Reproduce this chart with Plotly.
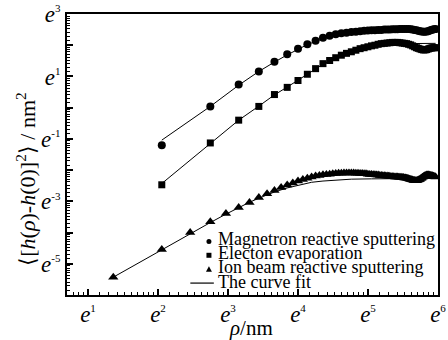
import numpy as np
import plotly.graph_objects as go

# ---------------- data ----------------
# lag rho in nm
rho_mag = [7.8, 15.6, 23.4, 31.2, 39.0, 46.8, 54.6, 62.4, 70.2, 78.0,
           85.8, 93.6, 101.4, 109.2, 117.0, 124.8, 132.6, 140.4, 148.2, 156.0,
           163.8, 171.6, 179.4, 187.2, 195.0, 202.8, 210.6, 218.4, 226.2, 234.0,
           241.8, 249.6, 257.4, 265.2, 273.0, 280.8, 288.6, 296.4, 304.2, 312.0,
           319.8, 327.6, 335.4, 343.2, 351.0, 358.8, 366.6, 374.4, 382.2, 390.0]
rho_ele = rho_mag
rho_ion = [3.9, 7.8, 11.7, 15.6, 19.5, 23.4, 27.3, 31.2, 35.1, 39.0,
           42.9, 46.8, 50.7, 54.6, 58.5, 62.4, 66.3, 70.2, 74.1, 78.0,
           81.9, 85.8, 89.7, 93.6, 97.5, 101.4, 105.3, 109.2, 113.1, 117.0,
           120.9, 124.8, 128.7, 132.6, 136.5, 140.4, 144.3, 148.2, 152.1, 156.0,
           159.9, 163.8, 167.7, 171.6, 175.5, 179.4, 183.3, 187.2, 191.1, 195.0,
           198.9, 202.8, 206.7, 210.6, 214.5, 218.4, 222.3, 226.2, 230.1, 234.0,
           237.9, 241.8, 245.7, 249.6, 253.5, 257.4, 261.3, 265.2, 269.1, 273.0,
           276.9, 280.8, 284.7, 288.6, 292.5, 296.4, 300.3, 304.2, 308.1, 312.0,
           315.9, 319.8, 323.7, 327.6, 331.5, 335.4, 339.3, 343.2, 347.1, 351.0,
           354.9, 358.8, 362.7, 366.6, 370.5, 374.4, 378.3, 382.2, 386.1, 390.0]

# natural log of <[h(rho)-h(0)]^2> (nm^2)
ln_mag = [-1.20, 0.04, 0.74, 1.16, 1.47, 1.71, 1.89, 2.03, 2.14, 2.24,
          2.30, 2.35, 2.38, 2.40, 2.42, 2.43, 2.45, 2.46, 2.47, 2.48,
          2.48, 2.49, 2.49, 2.50, 2.50, 2.50, 2.51, 2.51, 2.51, 2.52,
          2.52, 2.52, 2.52, 2.52, 2.51, 2.50, 2.49, 2.48, 2.46, 2.45,
          2.44, 2.43, 2.43, 2.44, 2.45, 2.47, 2.49, 2.50, 2.51, 2.52]
ln_ele = [-2.47, -1.13, -0.40, 0.04, 0.42, 0.65, 0.87, 1.07, 1.25, 1.41,
          1.51, 1.60, 1.68, 1.74, 1.79, 1.84, 1.89, 1.92, 1.95, 1.98,
          2.00, 2.03, 2.05, 2.06, 2.07, 2.08, 2.09, 2.09, 2.09, 2.08,
          2.07, 2.06, 2.05, 2.03, 2.01, 1.98, 1.95, 1.92, 1.90, 1.88,
          1.86, 1.85, 1.85, 1.86, 1.88, 1.90, 1.91, 1.92, 1.92, 1.92]
ln_ion = [-5.43, -4.54, -4.00, -3.65, -3.39, -3.20, -3.04, -2.88, -2.76, -2.65,
          -2.56, -2.48, -2.41, -2.35, -2.30, -2.26, -2.22, -2.19, -2.17, -2.15,
          -2.14, -2.13, -2.12, -2.11, -2.10, -2.10, -2.09, -2.09, -2.09, -2.09,
          -2.09, -2.10, -2.10, -2.11, -2.11, -2.12, -2.12, -2.13, -2.14, -2.14,
          -2.15, -2.15, -2.16, -2.16, -2.17, -2.17, -2.18, -2.18, -2.19, -2.19,
          -2.20, -2.20, -2.21, -2.21, -2.21, -2.22, -2.22, -2.22, -2.23, -2.23,
          -2.23, -2.24, -2.24, -2.25, -2.25, -2.26, -2.27, -2.28, -2.29, -2.30,
          -2.31, -2.32, -2.33, -2.33, -2.34, -2.34, -2.33, -2.32, -2.31, -2.29,
          -2.27, -2.25, -2.23, -2.21, -2.19, -2.18, -2.17, -2.16, -2.16, -2.16,
          -2.16, -2.17, -2.17, -2.18, -2.18, -2.19, -2.20, -2.21, -2.21, -2.22]

# curve fits
rho_fit_mag = [7.8, 15.6, 23.4, 31.2, 39.0, 46.8, 62.4, 78.0, 93.6, 117.0, 156.0, 195.0, 234.0, 312.0, 390.0]
ln_fit_mag = [-1.04, 0.04, 0.72, 1.16, 1.46, 1.69, 2.02, 2.21, 2.33, 2.42, 2.47, 2.49, 2.50, 2.50, 2.50]
rho_fit_ele = rho_fit_mag
ln_fit_ele = [-2.43, -1.13, -0.40, 0.05, 0.41, 0.66, 1.07, 1.39, 1.60, 1.80, 1.96, 2.03, 2.05, 2.06, 2.06]
rho_fit_ion = [3.9, 7.8, 11.7, 15.6, 19.5, 23.4, 27.3, 31.2, 35.1, 39.0, 46.8, 54.6, 66.3, 78.0, 97.5, 117.0, 156.0, 195.0, 273.0, 390.0]
ln_fit_ion = [-5.43, -4.55, -4.03, -3.68, -3.41, -3.20, -3.03, -2.90, -2.79, -2.70, -2.57, -2.48, -2.39, -2.35, -2.31, -2.29, -2.28, -2.27, -2.27, -2.27]

series_names = ["Magnetron reactive sputtering", "Electon evaporation",
                "Ion beam reactive sputtering", "The curve fit"]
x_tick_exp = [1, 2, 3, 4, 5, 6]
y_tick_exp = [-6, -5, -4, -3, -2, -1, 0, 1, 2, 3]
y_label_exp = [-5, -3, -1, 1, 3]

# ---------------- figure ----------------
FONT = "Liberation Serif"
W, H = 448, 340
L, R, T, B = 67, 2, 12, 45
PW, PH = W - L - R, H - T - B

fig = go.Figure()
for rx, ly in [(rho_fit_mag, ln_fit_mag), (rho_fit_ele, ln_fit_ele), (rho_fit_ion, ln_fit_ion)]:
    fig.add_trace(go.Scatter(x=rx, y=np.exp(ly), mode="lines",
                             line=dict(color="black", width=1), showlegend=False))

fig.add_trace(go.Scatter(x=rho_mag, y=np.exp(ln_mag), mode="markers",
                         marker=dict(symbol="circle", size=8, color="black"), showlegend=False))
fig.add_trace(go.Scatter(x=rho_ele, y=np.exp(ln_ele), mode="markers",
                         marker=dict(symbol="square", size=7, color="black"), showlegend=False))
fig.add_trace(go.Scatter(x=rho_ion, y=np.exp(ln_ion), mode="markers",
                         marker=dict(symbol="triangle-up", size=9, color="black"), showlegend=False))


def elab(k):
    return "<i>e</i><sup><span style='font-size:11px'>%d</span></sup>" % k


def minor_vals(lo, hi):
    vals = []
    for k in range(lo, hi):
        a, b = np.exp(k), np.exp(k + 1)
        for j in range(1, 10):
            vals.append(a + j * (b - a) / 10.0)
    return vals


ln10 = np.log(10)
fig.update_xaxes(type="log", range=[0.70 / ln10, 6.0 / ln10],
                 tickmode="array", tickvals=[np.exp(k) for k in x_tick_exp],
                 ticktext=[elab(k) for k in x_tick_exp],
                 ticklabeloverflow="allow", ticklabelstandoff=-3,
                 ticks="inside", ticklen=6, tickwidth=1.5, tickcolor="black",
                 showline=True, linecolor="black", linewidth=2, mirror=True,
                 showgrid=False, zeroline=False,
                 tickfont=dict(family=FONT, size=23, color="black"),
                 minor=dict(tickmode="array", tickvals=minor_vals(0, 6), ticks="inside",
                            ticklen=3, tickwidth=1, tickcolor="black", showgrid=False))
fig.update_yaxes(type="log", range=[-6.0 / ln10, 3.0 / ln10],
                 tickmode="array", tickvals=[np.exp(k) for k in y_tick_exp],
                 ticktext=[elab(k) if k in y_label_exp else "" for k in y_tick_exp],
                 ticklabeloverflow="allow",
                 ticks="inside", ticklen=6, tickwidth=1.5, tickcolor="black",
                 showline=True, linecolor="black", linewidth=2, mirror=True,
                 showgrid=False, zeroline=False,
                 tickfont=dict(family=FONT, size=23, color="black"),
                 minor=dict(tickmode="array", tickvals=minor_vals(-6, 3), ticks="inside",
                            ticklen=3, tickwidth=1, tickcolor="black", showgrid=False))


# helpers: window pixel -> paper coordinates
def px2x(px):
    return (px - L) / PW


def py2y(py):
    return (H - B - py) / PH


annotations = [
    dict(text="<i>ρ</i>/nm", x=px2x(255), y=py2y(328), xref="paper", yref="paper",
         showarrow=False, font=dict(family=FONT, size=21, color="black"),
         xanchor="center", yanchor="middle"),
    dict(text="⟨[<i>h</i>(<i>ρ</i>)-<i>h</i>(0)]<sup>2</sup>⟩ / nm<sup>2</sup>",
         x=px2x(25), y=py2y(178), xref="paper", yref="paper", textangle=-90,
         showarrow=False, font=dict(family=FONT, size=22, color="black"),
         xanchor="center", yanchor="middle"),
]
rows_y = [239, 253, 267, 282]
for name, ry in zip(series_names, rows_y):
    annotations.append(dict(text=name, x=px2x(219), y=py2y(ry), xref="paper", yref="paper",
                            showarrow=False, xanchor="left", yanchor="middle",
                            font=dict(family=FONT, size=18, color="black")))

shapes = [
    dict(type="circle", xref="paper", yref="paper", xsizemode="pixel", ysizemode="pixel",
         xanchor=px2x(212), yanchor=py2y(241), x0=-2.5, x1=2.5, y0=-2.5, y1=2.5,
         fillcolor="black", line=dict(width=0)),
    dict(type="rect", xref="paper", yref="paper", xsizemode="pixel", ysizemode="pixel",
         xanchor=px2x(212), yanchor=py2y(255), x0=-2.5, x1=2.5, y0=-2.5, y1=2.5,
         fillcolor="black", line=dict(width=0)),
    dict(type="path", xref="paper", yref="paper", xsizemode="pixel", ysizemode="pixel",
         xanchor=px2x(212), yanchor=py2y(269), path="M -3,-2.5 L 3,-2.5 L 0,3 Z",
         fillcolor="black", line=dict(width=0)),
    dict(type="line", xref="paper", yref="paper", x0=px2x(193), x1=px2x(217),
         y0=py2y(283), y1=py2y(283), line=dict(color="black", width=1.2)),
]

fig.update_layout(width=W, height=H, margin=dict(l=L, r=R, t=T, b=B),
                  paper_bgcolor="white", plot_bgcolor="white",
                  showlegend=False, annotations=annotations, shapes=shapes,
                  font=dict(family=FONT, color="black"))

# put the figure at the page origin (remove the default body margin)
fig.write_html("out.html", config={"displayModeBar": False},
               post_script="document.body.style.margin='0';document.body.style.overflow='hidden';")
